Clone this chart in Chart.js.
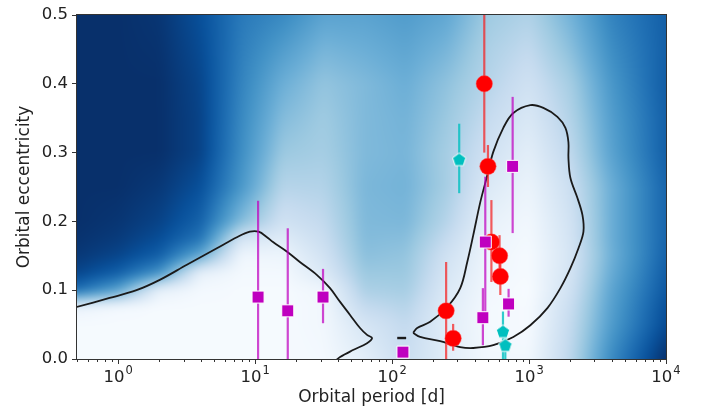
<!DOCTYPE html>
<html><head><meta charset="utf-8">
<script src="https://cdn.jsdelivr.net/npm/chart.js@4.4.0/dist/chart.umd.min.js"></script>
<style>html,body{margin:0;padding:0;background:#fff;}</style>
</head><body>
<canvas id="c" width="702" height="411"></canvas>
<script>
// ---------- data ----------
const xTickValues = [1, 10, 100, 1000, 10000];
const xTickExponents = ['0', '1', '2', '3', '4'];
const yTickValues = [0, 0.1, 0.2, 0.3, 0.4, 0.5];

const redP  = [471, 501, 531, 609, 617, 248, 279];
const redE  = [0.40, 0.28, 0.17, 0.15, 0.12, 0.07, 0.03];
const redLo = [0.30, 0.25, 0.112, 0.12, 0.093, -0.02, 0.012];
const redHi = [0.56, 0.311, 0.231, 0.18, 0.15, 0.141, 0.051];

const magP  = [10.5, 17.3, 31.3, 120, 479, 460, 759, 709];
const magE  = [0.09, 0.07, 0.09, 0.01, 0.17, 0.06, 0.28, 0.08];
const magLo = [-0.02, -0.02, 0.052, 0.01, 0.06, 0.02, 0.183, 0.0615];
const magHi = [0.23, 0.19, 0.131, 0.01, 0.265, 0.103, 0.381, 0.102];

const cyanP  = [309, 645, 671];
const cyanE  = [0.29, 0.04, 0.02];
const cyanLo = [0.241, 0.0, -0.02];
const cyanHi = [0.342, 0.069, 0.04];

// contour (period [d], eccentricity)
const contourLeftP = [0.497, 0.865, 1.36, 2.01, 3.17, 5.25, 7.35, 9.15, 10.6, 12.2, 13.5, 17.1, 21.2, 28.3, 35.2, 41.7, 49.3, 58.3, 65.6, 71.4, 65.6, 51.8, 41.7, 38.9];
const contourLeftE = [0.0756, 0.0887, 0.100, 0.115, 0.137, 0.161, 0.177, 0.185, 0.185, 0.177, 0.170, 0.156, 0.141, 0.122, 0.103, 0.083, 0.064, 0.045, 0.035, 0.0305, 0.023, 0.013, 0.003, -0.002];
const contourRightP = [142.5, 152.4, 189.7, 252.7, 314.4, 353.8, 391.3, 440.5, 495.5, 548, 648.6, 767.7, 1022, 1272, 1611, 1843, 1939, 1939, 2005, 2256, 2455, 2496, 2295, 2005, 1694, 1361, 1022, 767.7, 548, 391, 314, 224.4, 160.2, 142.5];
const contourRightE = [0.038, 0.045, 0.054, 0.0756, 0.103, 0.141, 0.180, 0.228, 0.267, 0.301, 0.336, 0.3576, 0.369, 0.365, 0.352, 0.336, 0.315, 0.292, 0.263, 0.234, 0.209, 0.185, 0.161, 0.132, 0.103, 0.074, 0.049, 0.032, 0.020, 0.016, 0.0174, 0.026, 0.032, 0.038];
const contourDashP = [109, 126.6];
const contourDashE = [0.0305, 0.0305];

// background density (0 = white .. 1 = navy), rows by eccentricity, columns by log10(period)
const gridLogP = [-0.3, 0, 0.3, 0.6, 0.9, 1.2, 1.5, 1.8, 2.1, 2.4, 2.7, 3.0, 3.3, 3.6, 4.0];
const gridE = [0, 0.05, 0.075, 0.1, 0.125, 0.15, 0.175, 0.2, 0.25, 0.3, 0.35, 0.4, 0.45, 0.5];
const density = [
  [0.01,0.01,0.01,0.01,0.01,0.01,0.02,0.10,0.23,0.11,0.03,0.03,0.28,0.65,1.00],
  [0.01,0.01,0.01,0.01,0.01,0.01,0.03,0.17,0.26,0.11,0.02,0.01,0.25,0.58,0.90],
  [0.06,0.02,0.01,0.01,0.01,0.01,0.03,0.25,0.30,0.12,0.02,0.01,0.23,0.56,0.88],
  [0.76,0.55,0.08,0.02,0.01,0.01,0.04,0.33,0.35,0.14,0.03,0.00,0.20,0.54,0.85],
  [0.92,0.82,0.62,0.08,0.02,0.02,0.14,0.38,0.38,0.17,0.04,0.01,0.18,0.51,0.83],
  [0.97,0.92,0.82,0.52,0.04,0.05,0.19,0.42,0.40,0.20,0.05,0.01,0.17,0.49,0.81],
  [0.99,0.96,0.89,0.74,0.18,0.12,0.23,0.44,0.43,0.25,0.06,0.02,0.18,0.50,0.80],
  [1.00,0.98,0.93,0.81,0.44,0.20,0.26,0.45,0.46,0.30,0.08,0.03,0.19,0.50,0.80],
  [1.00,1.00,0.97,0.88,0.60,0.30,0.31,0.46,0.48,0.35,0.14,0.06,0.22,0.50,0.80],
  [1.00,1.00,1.00,0.93,0.64,0.38,0.35,0.45,0.47,0.35,0.20,0.10,0.27,0.55,0.82],
  [1.00,1.00,1.00,0.93,0.66,0.44,0.37,0.45,0.48,0.38,0.25,0.15,0.31,0.57,0.82],
  [1.00,1.00,1.00,0.92,0.68,0.50,0.40,0.45,0.50,0.41,0.30,0.20,0.35,0.60,0.83],
  [1.00,1.00,0.99,0.90,0.70,0.58,0.47,0.50,0.54,0.47,0.33,0.26,0.42,0.64,0.82],
  [1.00,1.00,0.98,0.88,0.72,0.66,0.55,0.55,0.58,0.53,0.37,0.32,0.48,0.68,0.82]
];

// ---------- helpers ----------
const pts = (xs, ys) => xs.map((v, i) => ({x: v, y: ys[i]}));
const BLUES = [[247,251,255],[222,235,247],[198,219,239],[158,202,225],[107,174,214],[66,146,198],[33,113,181],[8,81,156],[8,48,107]];
function blues(v) {
  v = Math.max(0, Math.min(1, v)) * 8;
  const i = Math.min(7, Math.floor(v)), f = v - i;
  const a = BLUES[i], b = BLUES[i + 1];
  return [a[0] + (b[0] - a[0]) * f, a[1] + (b[1] - a[1]) * f, a[2] + (b[2] - a[2]) * f];
}
function locate(arr, v) {
  if (v <= arr[0]) return [0, 0];
  if (v >= arr[arr.length - 1]) return [arr.length - 2, 1];
  let i = 0; while (arr[i + 1] < v) i++;
  return [i, (v - arr[i]) / (arr[i + 1] - arr[i])];
}
function densityAt(lp, e) {
  const [i, fx] = locate(gridLogP, lp), [j, fy] = locate(gridE, e);
  const a = density[j][i], b = density[j][i + 1], c = density[j + 1][i], d = density[j + 1][i + 1];
  return (a * (1 - fx) + b * fx) * (1 - fy) + (c * (1 - fx) + d * fx) * fy;
}

const heatPlugin = {
  id: 'heat',
  beforeDatasetsDraw(chart) {
    const {ctx, chartArea: a, scales: {x, y}} = chart;
    const M = 14;
    const w = Math.round(a.right - a.left) + 2 * M, h = Math.round(a.bottom - a.top) + 2 * M;
    const off = document.createElement('canvas'); off.width = w; off.height = h;
    const octx = off.getContext('2d'); const img = octx.createImageData(w, h);
    const lps = []; for (let i = 0; i < w; i++) lps.push(Math.log10(x.getValueForPixel(a.left - M + i + 0.5)));
    for (let j = 0; j < h; j++) {
      const e = y.getValueForPixel(a.top - M + j + 0.5);
      for (let i = 0; i < w; i++) {
        const c = blues(densityAt(lps[i], e)); const k = (j * w + i) * 4;
        img.data[k] = c[0]; img.data[k + 1] = c[1]; img.data[k + 2] = c[2]; img.data[k + 3] = 255;
      }
    }
    octx.putImageData(img, 0, 0);
    ctx.save();
    ctx.beginPath(); ctx.rect(a.left, a.top, a.right - a.left, a.bottom - a.top); ctx.clip();
    ctx.filter = 'blur(5px)';
    ctx.drawImage(off, a.left - M, a.top - M);
    ctx.restore();
  }
};

const errPlugin = {
  id: 'errbars',
  beforeDatasetDraw(chart, args) {
    const ds = chart.data.datasets[args.index];
    if (!ds.errLo) return;
    const {ctx, chartArea: a, scales: {x, y}} = chart;
    ctx.save(); ctx.beginPath(); ctx.rect(a.left, a.top, a.right - a.left, a.bottom - a.top); ctx.clip();
    ctx.strokeStyle = ds.errColor; ctx.lineWidth = 2.2;
    ds.data.forEach((p, i) => {
      if (ds.errLo[i] === ds.errHi[i]) return;
      const px = x.getPixelForValue(p.x);
      ctx.beginPath(); ctx.moveTo(px, y.getPixelForValue(ds.errLo[i])); ctx.lineTo(px, y.getPixelForValue(ds.errHi[i])); ctx.stroke();
    });
    ctx.restore();
  }
};

const FONT = '"DejaVu Sans", sans-serif';
const framePlugin = {
  id: 'frame',
  afterDatasetsDraw(chart) {
    const {ctx, chartArea: a, scales: {x}} = chart;
    ctx.save();
    ctx.strokeStyle = '#333'; ctx.lineWidth = 1;
    ctx.strokeRect(Math.round(a.left) - 0.5, Math.round(a.top) - 0.5, Math.round(a.right - a.left) + 1, Math.round(a.bottom - a.top) + 1);
    // minor ticks
    ctx.beginPath();
    for (let k = -1; k <= 3; k++) for (let m = 2; m <= 9; m++) {
      const v = m * Math.pow(10, k);
      if (v < x.min || v > x.max) continue;
      const px = Math.round(x.getPixelForValue(v)) + 0.5;
      ctx.moveTo(px, a.bottom); ctx.lineTo(px, a.bottom + 3);
    }
    ctx.stroke();
    // x tick labels 10^k
    ctx.fillStyle = '#222'; ctx.textBaseline = 'alphabetic';
    xTickValues.forEach((v, i) => {
      const px = x.getPixelForValue(v);
      ctx.font = '16.5px ' + FONT;
      const w1 = ctx.measureText('10').width;
      ctx.font = '11.5px ' + FONT;
      const w2 = ctx.measureText(xTickExponents[i]).width;
      const left = px - (w1 + w2 + 1) / 2;
      ctx.font = '16.5px ' + FONT; ctx.textAlign = 'left';
      ctx.fillText('10', left, a.bottom + 23);
      ctx.font = '11.5px ' + FONT;
      ctx.fillText(xTickExponents[i], left + w1 + 1, a.bottom + 15);
    });
    ctx.restore();
  }
};

// pentagon marker
function pentagon(r, fill) {
  const s = Math.ceil(r * 2 + 4), c = document.createElement('canvas'); c.width = s; c.height = s;
  const g = c.getContext('2d'); g.beginPath();
  for (let i = 0; i < 5; i++) { const t = -Math.PI / 2 + i * 2 * Math.PI / 5; const px = s / 2 + r * Math.cos(t), py = s / 2 + 0.5 + r * Math.sin(t); i ? g.lineTo(px, py) : g.moveTo(px, py); }
  g.closePath(); g.fillStyle = fill; g.fill(); g.strokeStyle = '#fff'; g.lineWidth = 1; g.stroke();
  return c;
}

const contourStyle = {type: 'line', showLine: true, borderColor: '#1a1a1a', borderWidth: 1.8, pointRadius: 0, fill: false, tension: 0.35, order: 10};

new Chart(document.getElementById('c'), {
  type: 'scatter',
  data: {
    datasets: [
      {label: 'magenta', data: pts(magP, magE), errLo: magLo, errHi: magHi, errColor: 'rgba(191,0,191,0.72)',
        pointStyle: 'rect', pointRadius: 8.5, backgroundColor: '#bf00bf', borderColor: '#ffffff', borderWidth: 1, order: 1},
      {label: 'red', data: pts(redP, redE), errLo: redLo, errHi: redHi, errColor: 'rgba(245,30,30,0.72)',
        pointStyle: 'circle', pointRadius: 8.2, backgroundColor: '#ff0000', borderColor: 'rgba(255,80,80,0.6)', borderWidth: 0.8, order: 2},
      {label: 'cyan', data: pts(cyanP, cyanE), errLo: cyanLo, errHi: cyanHi, errColor: 'rgba(0,191,191,0.8)',
        pointStyle: pentagon(7, '#00bfbf'), pointRadius: 8, backgroundColor: '#00bfbf', order: 3},
      Object.assign({label: 'c1', data: pts(contourLeftP, contourLeftE)}, contourStyle),
      Object.assign({label: 'c2', data: pts(contourRightP, contourRightE)}, contourStyle),
      Object.assign({label: 'c3', data: pts(contourDashP, contourDashE)}, contourStyle, {borderWidth: 2.4, tension: 0})
    ]
  },
  options: {
    responsive: false, devicePixelRatio: 1, animation: false,
    layout: {padding: {left: 0, right: 36, top: 15, bottom: 0}},
    plugins: {legend: {display: false}, tooltip: {enabled: false}},
    scales: {
      x: {
        type: 'logarithmic', min: 0.5, max: 10000,
        afterBuildTicks: s => { s.ticks = xTickValues.map(v => ({value: v})); },
        afterFit: s => { s.height = 52; },
        ticks: {callback: () => '', autoSkip: false, maxRotation: 0},
        grid: {drawOnChartArea: false, tickLength: 5, tickColor: '#333', tickWidth: 1},
        border: {display: false},
        title: {display: true, text: 'Orbital period [d]', color: '#222', font: {family: FONT, size: 17}, padding: {top: 0, bottom: 3}}
      },
      y: {
        min: 0, max: 0.5,
        afterBuildTicks: s => { s.ticks = yTickValues.map(v => ({value: v})); },
        afterFit: s => { s.width = 77; },
        ticks: {callback: v => v.toFixed(1), color: '#222', font: {family: FONT, size: 16.5}, padding: 4},
        grid: {drawOnChartArea: false, tickLength: 5, tickColor: '#333', tickWidth: 1},
        border: {display: false},
        title: {display: true, text: 'Orbital eccentricity', color: '#222', font: {family: FONT, size: 17}, padding: {top: 14, bottom: 0}}
      }
    }
  },
  plugins: [heatPlugin, errPlugin, framePlugin]
});
</script>
</body></html>
